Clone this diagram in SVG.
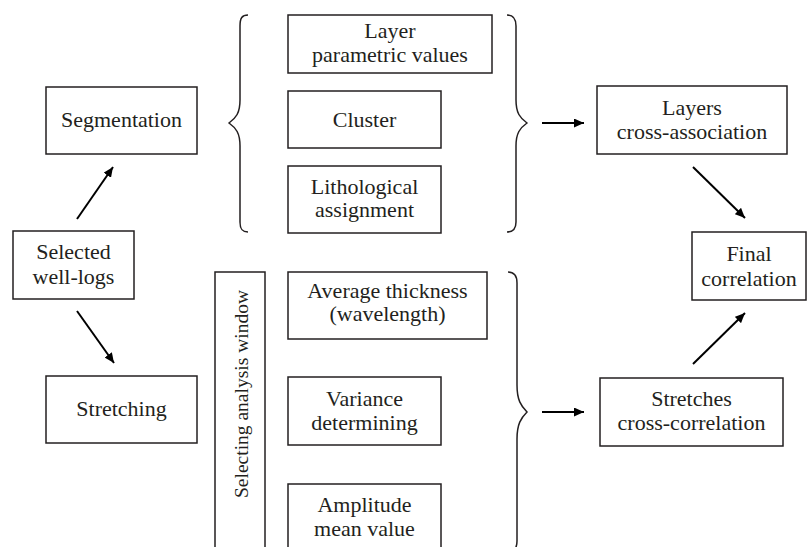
<svg xmlns="http://www.w3.org/2000/svg" width="808" height="547" viewBox="0 0 808 547">
<style>
  .box { fill: #ffffff; stroke: #231f20; stroke-width: 1.5; }
  .brace { fill: none; stroke: #231f20; stroke-width: 1.5; }
  .lbl { font-family: 'Liberation Serif', 'DejaVu Serif', serif; font-size: 22px; fill: #231f20; text-anchor: middle; }
  .vlbl { font-size: 19.5px; }
  .conn { stroke: #000; stroke-width: 2; fill: none; marker-end: url(#ah); }
</style>
<defs>
  <marker id="ah" markerUnits="userSpaceOnUse" markerWidth="11" markerHeight="9" refX="10" refY="4.5" orient="auto">
    <path d="M0,0 L10,4.5 L0,9 Z" fill="#000"/>
  </marker>
</defs>
<rect width="808" height="547" fill="#ffffff"/>

<g id="braces">
  <path class="brace" d="M 248,15 C 242,15 240,18 240,26 L 240,100 C 240,113 236,118 229,123 C 236,128 240,133 240,146 L 240,222 C 240,229 242,232 248,232"/>
  <path class="brace" d="M 507,15 C 513,15 516,18 516,26 L 516,100 C 516,113 520,118 527,123 C 520,128 516,133 516,146 L 516,222 C 516,229 513,232 507,232"/>
  <path class="brace" d="M 508,272 C 514,272 517,275 517,283 L 517,385 C 517,400 521,406 527,412 C 521,418 517,424 517,439 L 517,541 C 517,549 514,552 508,552"/>
</g>

<g id="selected-well-logs">
  <rect class="box" x="13" y="231" width="121" height="68"/>
  <text class="lbl" x="73.5" y="259">Selected</text>
  <text class="lbl" x="73.5" y="284">well-logs</text>
</g>
<g id="segmentation">
  <rect class="box" x="46" y="87" width="151" height="67"/>
  <text class="lbl" x="121.5" y="127">Segmentation</text>
</g>
<g id="stretching">
  <rect class="box" x="46" y="376" width="151" height="67"/>
  <text class="lbl" x="121.5" y="416">Stretching</text>
</g>
<g id="layer-parametric-values">
  <rect class="box" x="288" y="15" width="204" height="58"/>
  <text class="lbl" x="390" y="38">Layer</text>
  <text class="lbl" x="390" y="62">parametric values</text>
</g>
<g id="cluster">
  <rect class="box" x="288" y="91" width="153" height="57"/>
  <text class="lbl" x="364.5" y="127">Cluster</text>
</g>
<g id="lithological-assignment">
  <rect class="box" x="288" y="166" width="153" height="67"/>
  <text class="lbl" x="364.5" y="194">Lithological</text>
  <text class="lbl" x="364.5" y="217">assignment</text>
</g>
<g id="selecting-analysis-window">
  <rect class="box" x="215" y="272" width="50" height="290"/>
  <text class="lbl vlbl" transform="translate(248,394) rotate(-90)">Selecting analysis window</text>
</g>
<g id="average-thickness">
  <rect class="box" x="288" y="272" width="199" height="67"/>
  <text class="lbl" x="387.5" y="298">Average thickness</text>
  <text class="lbl" x="387.5" y="321">(wavelength)</text>
</g>
<g id="variance-determining">
  <rect class="box" x="288" y="377" width="153" height="68"/>
  <text class="lbl" x="364.5" y="406">Variance</text>
  <text class="lbl" x="364.5" y="430">determining</text>
</g>
<g id="amplitude-mean-value">
  <rect class="box" x="288" y="484" width="153" height="80"/>
  <text class="lbl" x="364.5" y="512">Amplitude</text>
  <text class="lbl" x="364.5" y="536">mean value</text>
</g>
<g id="layers-cross-association">
  <rect class="box" x="597" y="86" width="190" height="68"/>
  <text class="lbl" x="692" y="115">Layers</text>
  <text class="lbl" x="692" y="139">cross-association</text>
</g>
<g id="final-correlation">
  <rect class="box" x="692" y="232" width="114" height="68"/>
  <text class="lbl" x="749" y="261">Final</text>
  <text class="lbl" x="749" y="286">correlation</text>
</g>
<g id="stretches-cross-correlation">
  <rect class="box" x="600" y="378" width="183" height="68"/>
  <text class="lbl" x="691.5" y="406">Stretches</text>
  <text class="lbl" x="691.5" y="430">cross-correlation</text>
</g>

<g id="connectors">
  <line class="conn" x1="77" y1="219" x2="113" y2="167"/>
  <line class="conn" x1="77" y1="311" x2="114" y2="363"/>
  <line class="conn" x1="542" y1="123" x2="584" y2="123"/>
  <line class="conn" x1="693" y1="167" x2="745" y2="218"/>
  <line class="conn" x1="542" y1="412" x2="584" y2="412"/>
  <line class="conn" x1="693" y1="364" x2="745" y2="313"/>
</g>
</svg>
